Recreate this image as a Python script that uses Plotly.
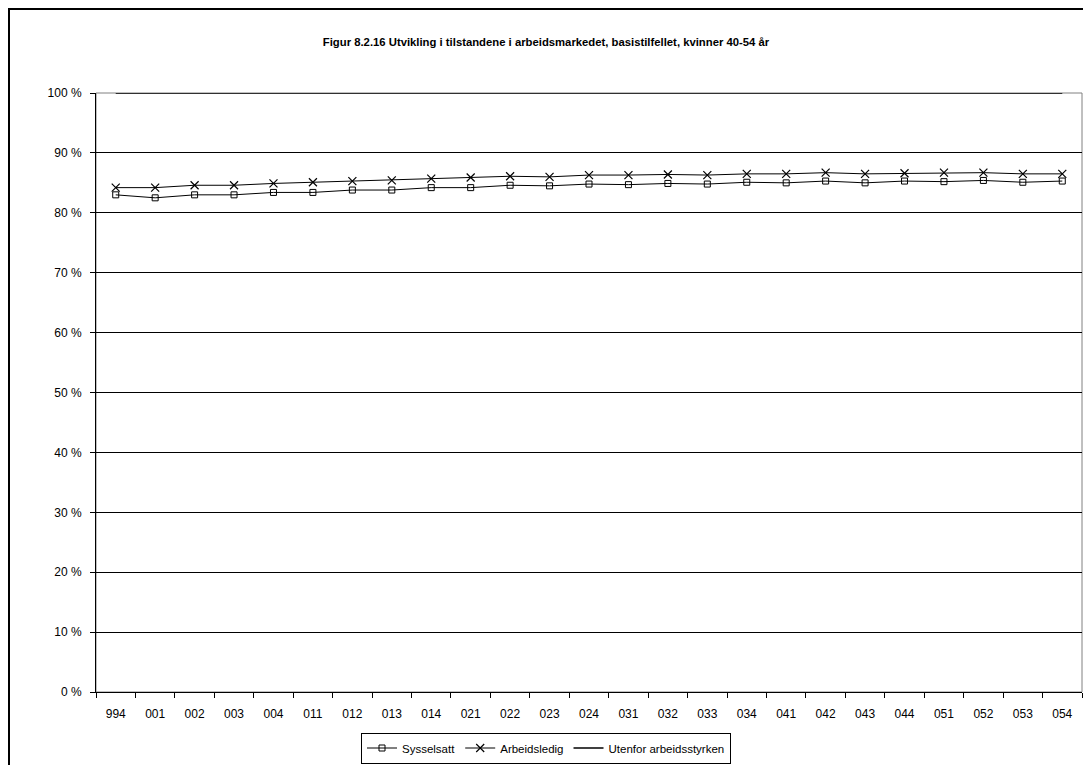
import plotly.graph_objects as go

categories = ["994", "001", "002", "003", "004", "011", "012", "013", "014", "021",
              "022", "023", "024", "031", "032", "033", "034", "041", "042", "043",
              "044", "051", "052", "053", "054"]

sysselsatt = [83.0, 82.5, 83.0, 83.0, 83.4, 83.4, 83.8, 83.8, 84.2, 84.2,
              84.6, 84.5, 84.8, 84.7, 84.9, 84.8, 85.1, 85.0, 85.3, 85.0,
              85.3, 85.2, 85.4, 85.1, 85.3]
arbeidsledig = [1.2, 1.7, 1.6, 1.6, 1.5, 1.7, 1.5, 1.6, 1.5, 1.7,
                1.5, 1.5, 1.5, 1.6, 1.5, 1.5, 1.4, 1.5, 1.4, 1.5,
                1.3, 1.5, 1.3, 1.4, 1.2]
utenfor = [15.8, 15.8, 15.4, 15.4, 15.1, 14.9, 14.7, 14.6, 14.3, 14.1,
           13.9, 14.0, 13.7, 13.7, 13.6, 13.7, 13.5, 13.5, 13.3, 13.5,
           13.4, 13.3, 13.3, 13.5, 13.5]

y_ticks = [0, 10, 20, 30, 40, 50, 60, 70, 80, 90, 100]
y_ticktext = [f"{v} %" for v in y_ticks]

# page has an 8px body margin; lay out in page pixels and convert
OFF = 8
W, H = 1091 - OFF, 765 - OFF
PL, PR, PT, PB = 96, 1082, 93, 692          # plot area in page pixels
L, R, T, B = PL - OFF, W - (PR - OFF), PT - OFF, H - (PB - OFF)
pw, ph = W - L - R, H - T - B

def px(xp):
    return (xp - OFF - L) / pw

def py(yp):
    return (H - B - (yp - OFF)) / ph

fig = go.Figure()
fig.add_trace(go.Scatter(
    x=categories, y=sysselsatt, name="Sysselsatt", stackgroup="s", fill="none",
    mode="lines+markers", line=dict(color="black", width=1),
    marker=dict(symbol="square-open", size=6, color="black", line=dict(width=1, color="black")),
))
fig.add_trace(go.Scatter(
    x=categories, y=arbeidsledig, name="Arbeidsledig", stackgroup="s", fill="none",
    mode="lines+markers", line=dict(color="black", width=1),
    marker=dict(symbol="x-thin", size=8, color="black", line=dict(width=1.2, color="black")),
))
fig.add_trace(go.Scatter(
    x=categories, y=utenfor, name="Utenfor arbeidsstyrken", stackgroup="s", fill="none",
    mode="lines", line=dict(color="black", width=1.5),
))

shapes = [
    # plot area border (gray, top & right)
    dict(type="rect", xref="paper", yref="paper", x0=0, x1=1, y0=0, y1=1,
         line=dict(color="#808080", width=1), layer="between"),
    # figure frame: top and left
    dict(type="line", xref="paper", yref="paper", x0=px(OFF), x1=px(1095), y0=py(OFF + 1), y1=py(OFF + 1),
         line=dict(color="black", width=2)),
    dict(type="line", xref="paper", yref="paper", x0=px(OFF + 1), x1=px(OFF + 1), y0=py(OFF), y1=py(780),
         line=dict(color="black", width=2)),
]

fig.update_layout(
    width=W, height=H,
    margin=dict(l=L, r=R, t=T, b=B, pad=0, autoexpand=False),
    paper_bgcolor="white", plot_bgcolor="white",
    font=dict(family="Arial, Liberation Sans, sans-serif", size=12, color="black"),
    title=dict(
        text="<b>Figur 8.2.16 Utvikling i tilstandene i arbeidsmarkedet, basistilfellet, kvinner 40-54 år</b>",
        x=(546 - OFF) / W, xref="container", xanchor="center",
        y=1 - (42 - OFF) / H, yref="container", yanchor="middle",
        font=dict(size=11.3, family="Arial, Liberation Sans, sans-serif", color="black"),
    ),
    showlegend=True,
    legend=dict(
        orientation="h", x=(546 - OFF) / W, xref="container", xanchor="center",
        y=1 - (748 - OFF) / H, yref="container", yanchor="middle",
        bordercolor="black", borderwidth=1, bgcolor="white",
        font=dict(size=11.5), itemwidth=30, tracegroupgap=0,
    ),
    shapes=shapes,
)

fig.update_xaxes(
    type="category", range=[-0.5, len(categories) - 0.5], autorange=False,
    showline=True, linecolor="black", linewidth=1,
    ticks="outside", tickson="boundaries", ticklen=5, tickcolor="black",
    showgrid=False, zeroline=False, tickfont=dict(size=12), ticklabelstandoff=11,
    automargin=False,
)
fig.update_yaxes(
    range=[0, 100], autorange=False, tickvals=y_ticks, ticktext=y_ticktext,
    showline=True, linecolor="black", linewidth=1,
    ticks="outside", ticklen=5, tickcolor="black",
    showgrid=True, gridcolor="black", gridwidth=1, zeroline=False,
    tickfont=dict(size=12), ticklabelstandoff=6, automargin=False,
)

fig.write_html("out.html")
